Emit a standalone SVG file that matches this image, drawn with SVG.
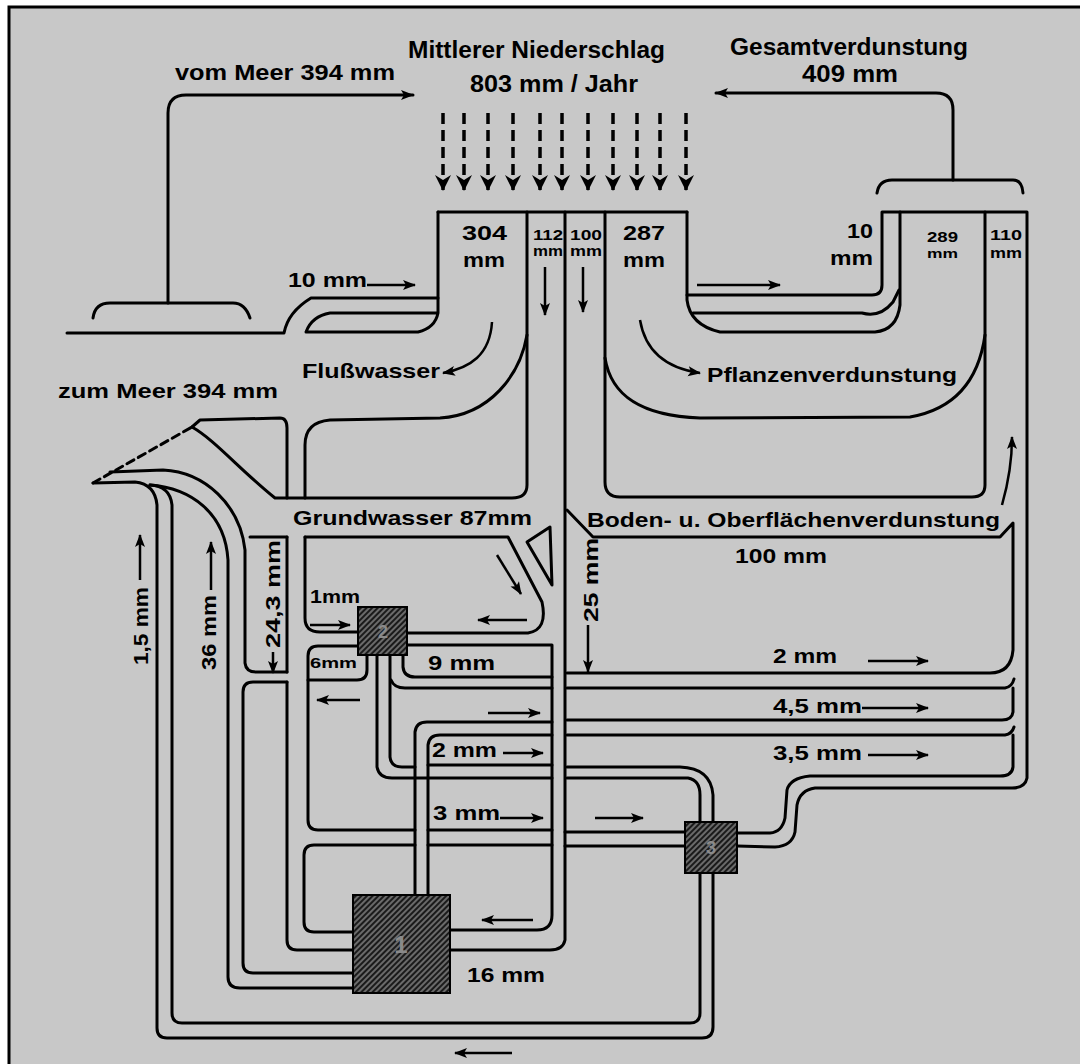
<svg xmlns="http://www.w3.org/2000/svg" width="1080" height="1064" viewBox="0 0 1080 1064">
<style>
.ln{fill:none;stroke:#000;stroke-width:3;stroke-linejoin:round;stroke-linecap:round}
.ar{fill:none;stroke:#000;stroke-width:2.5;marker-end:url(#ah)}
.rain{fill:none;stroke:#000;stroke-width:3.5;stroke-dasharray:11 6;marker-end:url(#rh)}
.t{font-family:"Liberation Sans",Arial,sans-serif;font-weight:bold;fill:#000}
.nd{fill:url(#hatch);stroke:#000;stroke-width:2}
.nl{font-family:"Liberation Sans",Arial,sans-serif;font-weight:bold;fill:#8a8a8a;text-anchor:middle}
</style>
<defs>
<marker id="ah" markerUnits="userSpaceOnUse" markerWidth="14" markerHeight="12" refX="12" refY="6" orient="auto"><path d="M0,1 L13,6 L0,11 L3,6 Z" fill="#000"/></marker>
<marker id="rh" markerUnits="userSpaceOnUse" markerWidth="16" markerHeight="18" refX="15" refY="8" orient="auto"><path d="M0,0 L16,8 L0,16 L5,8 Z" fill="#000"/></marker>
<pattern id="hatch" width="4" height="4" patternUnits="userSpaceOnUse" patternTransform="rotate(45)"><rect width="4" height="4" fill="#6a6a6a"/><rect width="2" height="4" fill="#1a1a1a"/></pattern>
</defs>
<rect x="0" y="0" width="1080" height="1064" fill="#fff"/>
<rect x="9" y="7" width="1080" height="1070" fill="#c8c8c8" stroke="#000" stroke-width="3"/>

<g id="connectors">
<path class="ln" d="M93,318 Q95,303 110,303 L233,303 Q245,303 250,318"/>
<path class="ln" d="M168,303 L168,113 Q168,95 186,95 L413,95" marker-end="url(#ah)"/>
<path class="ln" d="M67,333 L284,333 Q288,312 311,298 L438,298"/>
<path class="ln" d="M438,212 L438,313 Q435,328 418,332 L306,332 Q312,316 330,313 L438,313"/>
<path class="ln" d="M438,212 L687,212"/>
<path class="ln" d="M527,212 L527,485 Q527,498 512,498 L275,498 C240,470 215,440 192,427"/>
<path class="ln" d="M565,212 L565,940 Q563,950 550,950 L450,950"/>
<path class="ln" d="M605,212 L605,482 Q605,497 620,497 L972,497 Q985,497 985,485 L985,212"/>
<path class="ln" d="M605,358 C611,395 640,416 700,418 L910,417 C950,410 978,385 985,335"/>
<path class="ln" d="M527,335 C520,375 490,415 440,418 L330,420 Q305,422 305,445 L305,498"/>
<path class="ln" d="M305,537 L305,618 Q305,632 320,632 L358,632"/>
<path class="ln" d="M687,212 L687,300 Q690,325 720,332 L875,332 Q897,330 900,305 L900,212"/>
<path class="ln" d="M687,295 L872,295 Q882,295 882,285 L882,212 L1027,212 L1027,778 Q1025,788 1012,788 L815,788 Q800,790 797,805 L795,832 Q792,846 775,847 L737,846"/>
<path class="ln" d="M693,313 L862,313 Q880,318 893,302 L899,290"/>
<path class="ln" d="M877,193 Q879,180 892,180 L1013,180 Q1022,180 1023,193"/>
<path class="ln" d="M953,180 L953,110 Q953,93 936,93 L716,93" marker-end="url(#ah)"/>
<path class="ln" d="M567,510 L593,537 L1000,537 L1013,523 L1013,650 Q1011,673 990,673 L567,673"/>
<path class="ln" d="M567,688 L1005,688 Q1012,687 1014,679"/>
<path class="ln" d="M1013,688 L1013,712 Q1012,720 1002,720 L567,720"/>
<path class="ln" d="M567,735 L1005,735 Q1012,734 1014,727"/>
<path class="ln" d="M1013,735 L1013,767 Q1012,776 1000,776 L810,776 Q790,778 787,790 L785,818 Q782,832 770,833 L737,833"/>
<path class="ln" d="M567,767 L680,767 Q711,768 713,795 L713,822"/>
<path class="ln" d="M567,778 L688,778 Q700,780 700,795 L700,822"/>
<path class="ln" d="M358,646 L318,646 Q308,646 308,656 L308,820 Q308,830 318,830 L415,830"/>
<path class="ln" d="M428,830 L552,830 M565,832 L685,832"/>
<path class="ln" d="M415,845 L314,845 Q304,845 304,855 L304,922 Q304,932 314,932 L353,932"/>
<path class="ln" d="M428,845 L552,845 M565,846 L685,846"/>
<path class="ln" d="M407,645 L552,645 L552,915 Q552,930 537,930 L450,930"/>
<path class="ln" d="M403,655 L403,667 Q404,677 415,677 L552,677"/>
<path class="ln" d="M390,655 L390,757 Q391,767 402,767 L415,767"/>
<path class="ln" d="M391,680 Q394,688 405,688 L552,688"/>
<path class="ln" d="M377,655 L377,767 Q379,778 392,778 L552,778"/>
<path class="ln" d="M415,895 L415,732 Q416,722 427,722 L552,722"/>
<path class="ln" d="M428,895 L428,745 Q429,735 440,735 L552,735"/>
<path class="ln" d="M428,765 L552,765"/>
<path class="ln" d="M367,655 L367,670 Q367,680 357,680 L308,680"/>
<path class="ln" d="M93,483 L135,482 Q155,484 157,505 L157,1028 Q157,1038 167,1038 L702,1038 Q713,1038 713,1027 L713,873"/>
<path class="ln" d="M150,485 Q170,486 172,505 L172,1013 Q172,1023 182,1023 L690,1023 Q700,1023 700,1013 L700,873"/>
<path class="ln" d="M150,485 C190,488 225,512 228,560 L228,977 Q228,988 240,988 L353,988"/>
<path class="ln" d="M110,472 L163,470 C205,472 240,505 245,550 L245,663 Q246,672 256,672 L287,672"/>
<path class="ln" d="M287,682 L253,682 Q243,682 243,692 L243,963 Q243,973 253,973 L353,973"/>
<path class="ln" d="M192,427 L200,420 L280,418 Q287,418 287,428 L287,498"/>
<path class="ln" d="M287,537 L287,672 M287,682 L287,940 Q287,950 297,950 L353,950"/>
<path class="ln" d="M250,537 L287,537 M305,537 L508,537 L542,602 Q548,630 528,633 L407,633"/>
<path class="ln" d="M527,542 L550,527 L552,585 Z"/>
<path class="ln" d="M93,483 L192,427" stroke-dasharray="8 5"/>

<path class="rain" d="M443,113 L443,190"/>
<path class="rain" d="M464,113 L464,190"/>
<path class="rain" d="M488,113 L488,190"/>
<path class="rain" d="M513,113 L513,190"/>
<path class="rain" d="M540,113 L540,190"/>
<path class="rain" d="M562,113 L562,190"/>
<path class="rain" d="M588,113 L588,190"/>
<path class="rain" d="M613,113 L613,190"/>
<path class="rain" d="M637,113 L637,190"/>
<path class="rain" d="M660,113 L660,190"/>
<path class="rain" d="M686,113 L686,190"/>

<path class="ar" d="M367,285 L415,285"/>
<path class="ar" d="M697,285 L780,285"/>
<path class="ar" d="M545,267 L545,315"/>
<path class="ar" d="M583,267 L583,312"/>
<path class="ar" d="M492,322 C490,355 470,368 443,373"/>
<path class="ar" d="M640,320 C645,350 665,368 700,373"/>
<path class="ar" d="M497,555 L521,594"/>
<path class="ar" d="M527,620 L478,620"/>
<path class="ar" d="M588,625 L588,672"/>
<path class="ar" d="M310,625 L350,625"/>
<path class="ar" d="M360,700 L317,700"/>
<path class="ar" d="M488,713 L540,713"/>
<path class="ar" d="M503,753 L543,753"/>
<path class="ar" d="M500,818 L543,818"/>
<path class="ar" d="M595,818 L643,818"/>
<path class="ar" d="M533,920 L482,920"/>
<path class="ar" d="M512,1053 L455,1053"/>
<path class="ar" d="M868,661 L928,661"/>
<path class="ar" d="M862,708 L928,708"/>
<path class="ar" d="M868,755 L928,755"/>
<path class="ar" d="M1002,505 Q1012,470 1012,437"/>
<path class="ar" d="M140,580 L140,535"/>
<path class="ar" d="M211,590 L211,542"/>
<path class="ar" d="M273,652 L273,673"/>
</g>

<g id="node1"><rect class="nd" x="353" y="895" width="97" height="98"/><text class="nl" x="401" y="953" font-size="24">1</text></g>
<g id="node2"><rect class="nd" x="358" y="607" width="49" height="48"/><text class="nl" x="383" y="638" font-size="18">2</text></g>
<g id="node3"><rect class="nd" x="685" y="822" width="52" height="51"/><text class="nl" x="711" y="854" font-size="18">3</text></g>

<g id="labels">
<text class="t" x="408" y="58" font-size="23" textLength="257" lengthAdjust="spacingAndGlyphs">Mittlerer Niederschlag</text>
<text class="t" x="470" y="92" font-size="23" textLength="168" lengthAdjust="spacingAndGlyphs">803 mm / Jahr</text>
<text class="t" x="175" y="80" font-size="22" textLength="220" lengthAdjust="spacingAndGlyphs">vom Meer 394 mm</text>
<text class="t" x="730" y="55" font-size="23" textLength="238" lengthAdjust="spacingAndGlyphs">Gesamtverdunstung</text>
<text class="t" x="802" y="82" font-size="23" textLength="96" lengthAdjust="spacingAndGlyphs">409 mm</text>
<text class="t" x="462" y="240" font-size="21" textLength="45" lengthAdjust="spacingAndGlyphs">304</text>
<text class="t" x="463" y="267" font-size="21" textLength="42" lengthAdjust="spacingAndGlyphs">mm</text>
<text class="t" x="623" y="240" font-size="21" textLength="42" lengthAdjust="spacingAndGlyphs">287</text>
<text class="t" x="623" y="267" font-size="21" textLength="42" lengthAdjust="spacingAndGlyphs">mm</text>
<text class="t" x="533" y="240" font-size="15" textLength="30" lengthAdjust="spacingAndGlyphs">112</text>
<text class="t" x="533" y="256" font-size="14" textLength="30" lengthAdjust="spacingAndGlyphs">mm</text>
<text class="t" x="570" y="240" font-size="15" textLength="32" lengthAdjust="spacingAndGlyphs">100</text>
<text class="t" x="570" y="256" font-size="14" textLength="32" lengthAdjust="spacingAndGlyphs">mm</text>
<text class="t" x="847" y="238" font-size="21" textLength="26" lengthAdjust="spacingAndGlyphs">10</text>
<text class="t" x="830" y="265" font-size="21" textLength="43" lengthAdjust="spacingAndGlyphs">mm</text>
<text class="t" x="927" y="242" font-size="14" textLength="31" lengthAdjust="spacingAndGlyphs">289</text>
<text class="t" x="927" y="258" font-size="13" textLength="31" lengthAdjust="spacingAndGlyphs">mm</text>
<text class="t" x="990" y="240" font-size="15" textLength="32" lengthAdjust="spacingAndGlyphs">110</text>
<text class="t" x="990" y="258" font-size="14" textLength="32" lengthAdjust="spacingAndGlyphs">mm</text>
<text class="t" x="288" y="287" font-size="21" textLength="79" lengthAdjust="spacingAndGlyphs">10 mm</text>
<text class="t" x="302" y="378" font-size="21" textLength="138" lengthAdjust="spacingAndGlyphs">Flußwasser</text>
<text class="t" x="707" y="382" font-size="21" textLength="250" lengthAdjust="spacingAndGlyphs">Pflanzenverdunstung</text>
<text class="t" x="58" y="398" font-size="21" textLength="220" lengthAdjust="spacingAndGlyphs">zum Meer 394 mm</text>
<text class="t" x="293" y="525" font-size="21" textLength="239" lengthAdjust="spacingAndGlyphs">Grundwasser 87mm</text>
<text class="t" x="587" y="527" font-size="21" textLength="413" lengthAdjust="spacingAndGlyphs">Boden- u. Oberflächenverdunstung</text>
<text class="t" x="735" y="563" font-size="21" textLength="92" lengthAdjust="spacingAndGlyphs">100 mm</text>
<text class="t" x="310" y="603" font-size="19" textLength="50" lengthAdjust="spacingAndGlyphs">1mm</text>
<text class="t" x="310" y="668" font-size="15" textLength="47" lengthAdjust="spacingAndGlyphs">6mm</text>
<text class="t" x="428" y="670" font-size="21" textLength="67" lengthAdjust="spacingAndGlyphs">9 mm</text>
<text class="t" x="773" y="663" font-size="21" textLength="64" lengthAdjust="spacingAndGlyphs">2 mm</text>
<text class="t" x="773" y="713" font-size="21" textLength="89" lengthAdjust="spacingAndGlyphs">4,5 mm</text>
<text class="t" x="773" y="760" font-size="21" textLength="89" lengthAdjust="spacingAndGlyphs">3,5 mm</text>
<text class="t" x="432" y="757" font-size="21" textLength="65" lengthAdjust="spacingAndGlyphs">2 mm</text>
<text class="t" x="433" y="820" font-size="21" textLength="67" lengthAdjust="spacingAndGlyphs">3 mm</text>
<text class="t" x="467" y="982" font-size="21" textLength="78" lengthAdjust="spacingAndGlyphs">16 mm</text>
<text class="t" transform="translate(148,665) rotate(-90)" font-size="21" textLength="78" lengthAdjust="spacingAndGlyphs">1,5 mm</text>
<text class="t" transform="translate(216,670) rotate(-90)" font-size="21" textLength="75" lengthAdjust="spacingAndGlyphs">36 mm</text>
<text class="t" transform="translate(280,648) rotate(-90)" font-size="21" textLength="108" lengthAdjust="spacingAndGlyphs">24,3 mm</text>
<text class="t" transform="translate(598,622) rotate(-90)" font-size="21" textLength="84" lengthAdjust="spacingAndGlyphs">25 mm</text>
</g>
</svg>
